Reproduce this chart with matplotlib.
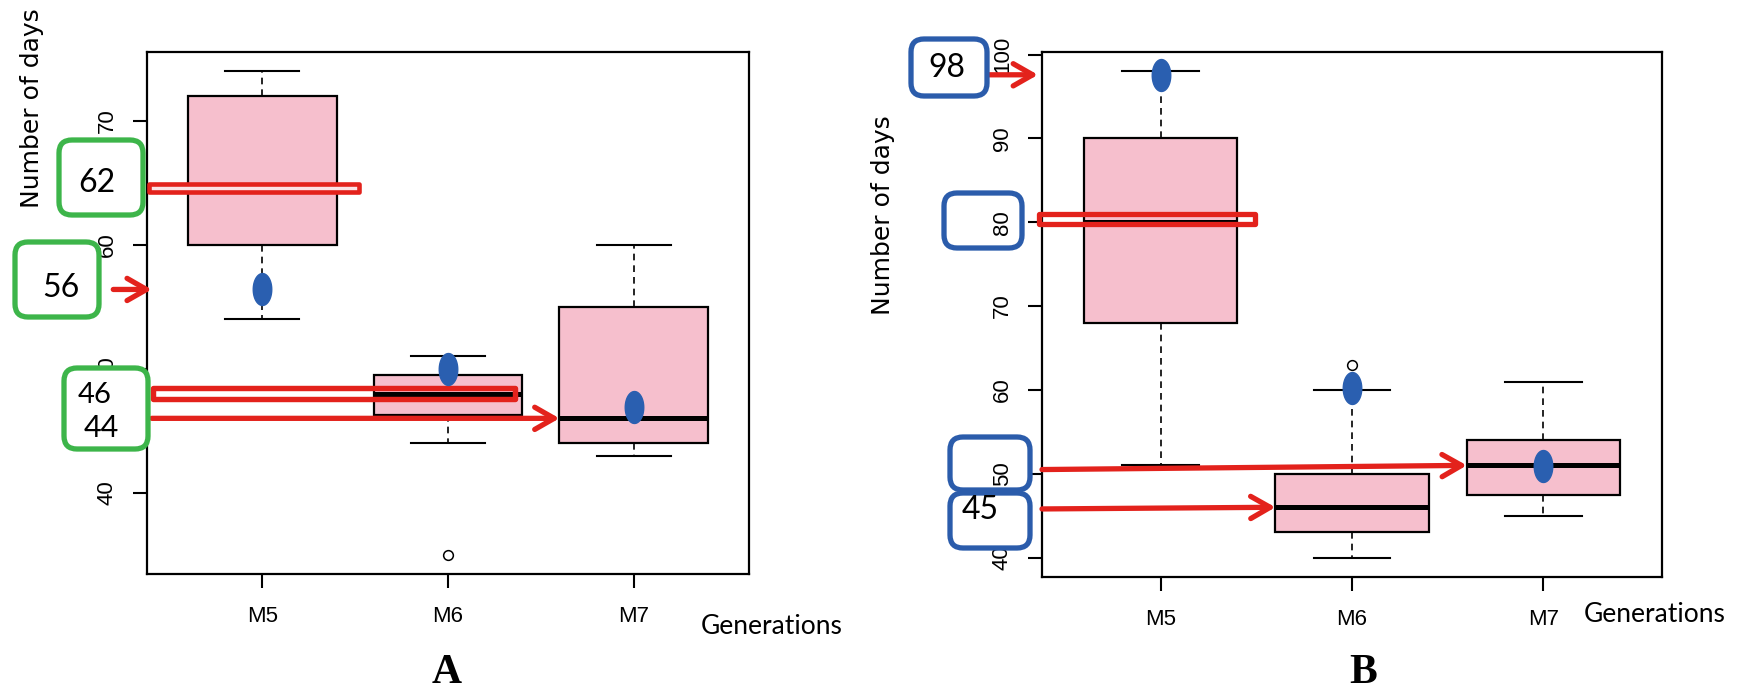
import numpy as np
import matplotlib
matplotlib.use("Agg")
import matplotlib.pyplot as plt
from matplotlib.path import Path
from matplotlib.patches import FancyBboxPatch, Rectangle
from matplotlib.transforms import IdentityTransform, blended_transform_factory

# ---- data ----
cats = ["M5", "M6", "M7"]

# panel A
a_whislo = [54, 44, 43]
a_q1 = [60, 46.3, 44]
a_med = [64.6, 48, 46]
a_q3 = [72, 49.5, 55]
a_whishi = [74, 51, 60]
a_mean = [56.4, 50, 46.9]
a_fliers = [[], [35], []]
a_yticks = [40, 50, 60, 70]

# panel B
b_whislo = [51, 40, 45]
b_q1 = [68, 43, 47.5]
b_med = [80, 46, 51]
b_q3 = [90, 50, 54]
b_whishi = [98, 60, 61]
b_mean = [97.6, 60.2, 50.9]
b_fliers = [[], [63], []]
b_yticks = [40, 50, 60, 70, 80, 90, 100]

# call-out numbers written in the boxes
a_callouts = ["62", "56", "46", "44"]
b_callouts = ["98", "45"]

PINK = "#f6bfcd"
DOT = "#2a5fb0"
RED = "#e3221c"
GREEN = "#3db54a"
BLUEBOX = "#2b5cab"

W, H = 1747, 691
fig = plt.figure(figsize=(W / 100, H / 100), dpi=100)
ident = IdentityTransform()

# ellipse marker for the means
t = np.linspace(0, 2 * np.pi, 60)
ell = Path(np.column_stack([0.29 * np.cos(t), 0.5 * np.sin(t)]), closed=True)


def make_stats(lo, q1, med, q3, hi, mean, fl):
    out = []
    for i, c in enumerate(cats):
        out.append(dict(label=c, whislo=lo[i], q1=q1[i], med=med[i], q3=q3[i],
                        whishi=hi[i], mean=mean[i], fliers=fl[i]))
    return out


def draw_panel(ax, st, yticks):
    ax.bxp(st, positions=[1, 2, 3], widths=0.8, capwidths=0.4, patch_artist=True,
           showmeans=True,
           boxprops=dict(facecolor=PINK, edgecolor="black", linewidth=1.6),
           medianprops=dict(color="black", linewidth=3.6, solid_capstyle="butt"),
           whiskerprops=dict(color="black", linewidth=1.2, linestyle=(0, (4, 3))),
           capprops=dict(color="black", linewidth=1.5),
           flierprops=dict(marker="o", markerfacecolor="white", markeredgecolor="black",
                           markersize=7, markeredgewidth=1.1),
           meanprops=dict(marker=ell, markerfacecolor=DOT, markeredgecolor=DOT,
                          markersize=23, linestyle="none", zorder=6))
    lo = min(min(s["whislo"] for s in st), min([f for s in st for f in s["fliers"]] + [999]))
    hi = max(max(s["whishi"] for s in st), max([f for s in st for f in s["fliers"]] + [-999]))
    pad = 0.04 * (hi - lo)
    ax.set_xlim(0.38, 3.62)
    ax.set_ylim(lo - pad, hi + pad)
    ax.set_yticks(yticks)
    ax.set_yticklabels([str(v) for v in yticks], rotation=90, va="center",
                       fontfamily="Liberation Sans", fontsize=16)
    ax.set_xticks([1, 2, 3])
    ax.set_xticklabels(cats, fontfamily="Liberation Sans", fontsize=16)
    ax.tick_params(axis="y", length=10, width=1.5, pad=11)
    ax.tick_params(axis="x", length=10, width=1.5, pad=13)
    for s in ax.spines.values():
        s.set_linewidth(1.6)


def rbox(x0, y0, x1, y1, color, fill="white"):
    p = FancyBboxPatch((x0, H - y1), x1 - x0, y1 - y0,
                       boxstyle="round,pad=0,rounding_size=13",
                       transform=ident, facecolor=fill, edgecolor=color, linewidth=3.8)
    fig.add_artist(p)


def ftext(x, y, s, **kw):
    fig.text(x, H - y, s, transform=ident, **kw)


arrow_kw = dict(arrowstyle="->,head_length=1.4,head_width=0.8", color=RED, lw=3.8,
                shrinkA=0, shrinkB=0)

# ---------------- panel A ----------------
axA = fig.add_axes([147 / W, 1 - 574 / H, (749 - 147) / W, (574 - 52) / H])
draw_panel(axA, make_stats(a_whislo, a_q1, a_med, a_q3, a_whishi, a_mean, a_fliers), a_yticks)
trA = blended_transform_factory(axA.transAxes, axA.transData)

axA.add_patch(Rectangle((0.39, a_med[0] - 0.3), 1.13, 0.6, facecolor="#fbe3e6",
                        edgecolor=RED, linewidth=3.3, joinstyle="round", zorder=5, clip_on=False))
axA.add_patch(Rectangle((0.41, a_med[1] - 0.45), 1.95, 0.9, facecolor="none",
                        edgecolor=RED, linewidth=3.9, joinstyle="round", zorder=5, clip_on=False))
axA.annotate("", xy=(0.008, a_mean[0]), xycoords=trA, xytext=(-0.056, a_mean[0]),
             textcoords=trA, arrowprops=arrow_kw, annotation_clip=False)
axA.annotate("", xy=(2.6, a_med[2]), xycoords="data", xytext=(0.008, a_med[2]),
             textcoords=trA, arrowprops=arrow_kw, annotation_clip=False)

rbox(59, 140, 143, 215, GREEN)
rbox(15, 242, 99, 317, GREEN)
rbox(64, 368, 148, 449, GREEN)
num_kw = dict(family="Lato", fontsize=23, ha="center", va="center", color="black")
ftext(97, 183, a_callouts[0], **num_kw)
ftext(61, 288, a_callouts[1], **num_kw)
ftext(95, 395, a_callouts[2], **{**num_kw, "fontsize": 21})
ftext(101, 428, a_callouts[3], **{**num_kw, "fontsize": 22})

ftext(32, 108, "Number of days", family="DejaVu Sans", fontsize=18, rotation=90,
      ha="center", va="center")
ftext(701, 627, "Generations", family="Lato", fontsize=19, ha="left", va="center")
ftext(447, 673, "A", family="Liberation Serif", fontweight="bold", fontsize=30,
      ha="center", va="center")

# ---------------- panel B ----------------
axB = fig.add_axes([1042 / W, 1 - 577 / H, (1662 - 1042) / W, (577 - 52) / H])
draw_panel(axB, make_stats(b_whislo, b_q1, b_med, b_q3, b_whishi, b_mean, b_fliers), b_yticks)
trB = blended_transform_factory(axB.transAxes, axB.transData)

axB.add_patch(Rectangle((0.365, b_med[0] - 0.2), 1.13, 1.2, facecolor="none",
                        edgecolor=RED, linewidth=3.8, joinstyle="round", zorder=5, clip_on=False))
axB.annotate("", xy=(-0.0065, b_mean[0]), xycoords=trB, xytext=(-0.116, b_mean[0]),
             textcoords=trB, arrowprops=arrow_kw, annotation_clip=False)
axB.annotate("", xy=(2.6, b_med[2]), xycoords="data", xytext=(0.0, b_med[2] - 0.5),
             textcoords=trB, arrowprops=arrow_kw, annotation_clip=False)
axB.annotate("", xy=(1.6, b_med[1]), xycoords="data", xytext=(0.0, b_med[1] - 0.2),
             textcoords=trB, arrowprops=arrow_kw, annotation_clip=False)

rbox(911, 39, 987, 96, BLUEBOX)
rbox(944, 193, 1022, 248, BLUEBOX, fill="none")
rbox(950, 437, 1030, 490, BLUEBOX, fill="none")
rbox(950, 493, 1030, 548, BLUEBOX)
ftext(947, 68, b_callouts[0], **num_kw)
ftext(980, 510, b_callouts[1], **num_kw)

ftext(883, 215, "Number of days", family="DejaVu Sans", fontsize=18, rotation=90,
      ha="center", va="center")
ftext(1584, 615, "Generations", family="Lato", fontsize=19, ha="left", va="center")
ftext(1363, 673, "B", family="Liberation Serif", fontweight="bold", fontsize=30,
      ha="center", va="center")

fig.savefig("out.png", dpi=100)
